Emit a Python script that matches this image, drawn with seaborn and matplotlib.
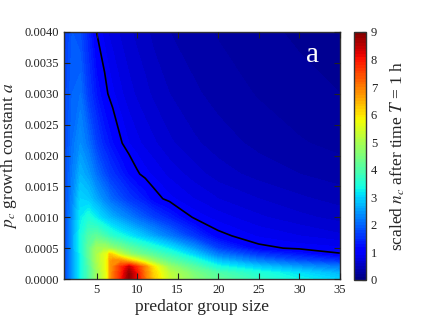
import numpy as np
import matplotlib
matplotlib.use("Agg")
import matplotlib.pyplot as plt
import seaborn as sns

sns.set_theme(style="ticks")
plt.rcParams['font.family'] = ['Liberation Serif', 'DejaVu Serif']
plt.rcParams['mathtext.fontset'] = 'stix'

# predator group size (x) and growth constant a (y)
group_size = [1, 2, 3, 4, 5, 6, 6.4, 6.6, 7, 8, 9, 10, 11, 12, 14, 17, 20, 25, 30, 35]
growth_a = [0.0, 0.0001, 0.0002, 0.0003, 0.0004, 0.0005, 0.0007,
            0.0010, 0.0013, 0.0017, 0.0022, 0.0030, 0.0040]

# scaled n_c, one row per value of a
nc_a00000 = [1.7, 2.5, 3.3, 4.0, 4.8, 5.5, 5.9, 6.6, 7.0, 7.9, 8.9, 8.1, 7.1, 6.3, 5.3, 4.6, 4.2, 3.7, 3.3, 3.0]
nc_a00001 = [1.7, 2.5, 3.3, 4.0, 4.8, 5.5, 5.9, 6.6, 7.0, 7.8, 8.8, 8.0, 7.0, 6.2, 5.2, 4.5, 4.0, 3.5, 3.1, 2.7]
nc_a00002 = [1.7, 2.5, 3.3, 4.0, 4.9, 5.6, 5.9, 6.6, 6.9, 7.7, 8.4, 7.7, 6.9, 6.0, 4.8, 4.1, 3.4, 2.9, 2.5, 2.2]
nc_a00003 = [1.7, 2.5, 3.3, 4.1, 5.0, 5.6, 5.9, 6.6, 6.8, 6.8, 6.3, 5.8, 5.3, 4.8, 4.2, 3.6, 2.8, 2.2, 1.8, 1.5]
nc_a00004 = [1.7, 2.5, 3.3, 4.2, 5.0, 5.6, 5.8, 6.3, 6.1, 5.3, 4.8, 4.5, 4.3, 4.1, 3.7, 3.0, 2.2, 1.6, 1.3, 1.02]
nc_a00005 = [1.7, 2.5, 3.4, 4.2, 4.9, 5.0, 4.9, 4.8, 4.7, 4.5, 4.2, 4.0, 3.8, 3.6, 3.2, 2.5, 1.7, 1.06, 0.96, 0.92]
nc_a00007 = [1.7, 2.5, 3.4, 4.0, 4.2, 3.9, 3.8, 3.7, 3.6, 3.4, 3.2, 3.0, 2.8, 2.6, 2.2, 1.6, 1.06, 0.88, 0.8, 0.72]
nc_a00010 = [1.7, 2.4, 3.2, 3.5, 3.2, 2.9, 2.8, 2.75, 2.65, 2.45, 2.25, 2.05, 1.87, 1.7, 1.4, 0.97, 0.85, 0.72, 0.63, 0.56]
nc_a00013 = [1.7, 2.3, 3.0, 2.9, 2.6, 2.3, 2.2, 2.1, 2.0, 1.8, 1.6, 1.45, 1.3, 1.1, 0.93, 0.8, 0.7, 0.6, 0.52, 0.46]
nc_a00017 = [1.7, 2.2, 2.7, 2.5, 2.1, 1.8, 1.7, 1.62, 1.55, 1.36, 1.18, 1.03, 0.94, 0.88, 0.77, 0.65, 0.55, 0.46, 0.4, 0.35]
nc_a00022 = [1.7, 2.1, 2.4, 2.1, 1.7, 1.4, 1.33, 1.28, 1.2, 1.02, 0.9, 0.83, 0.77, 0.72, 0.62, 0.52, 0.45, 0.37, 0.31, 0.27]
nc_a00030 = [1.7, 2.0, 2.1, 1.65, 1.3, 1.08, 1.0, 0.97, 0.92, 0.82, 0.74, 0.68, 0.63, 0.58, 0.5, 0.42, 0.36, 0.29, 0.24, 0.2]
nc_a00040 = [1.6, 1.9, 1.8, 1.4, 1.0, 0.85, 0.8, 0.78, 0.75, 0.68, 0.62, 0.57, 0.53, 0.47, 0.4, 0.34, 0.29, 0.23, 0.18, 0.15]

Z = np.array([nc_a00000, nc_a00001, nc_a00002, nc_a00003, nc_a00004, nc_a00005,
              nc_a00007, nc_a00010, nc_a00013, nc_a00017, nc_a00022, nc_a00030, nc_a00040])
X, Y = np.meshgrid(group_size, growth_a)

cmap = matplotlib.colormaps['jet']

fig = plt.figure(figsize=(4.27, 3.2), dpi=100)
ax = fig.add_axes([0.150, 0.128, 0.646, 0.772])
cax = fig.add_axes([0.829, 0.125, 0.028, 0.775])

cf = ax.contourf(X, Y, Z, levels=np.linspace(0, 9, 91), cmap=cmap, vmin=0, vmax=9)
ax.contour(X, Y, Z, levels=[1.0], colors='black', linewidths=1.2)

ax.set_xlim(1, 35)
ax.set_ylim(0, 0.004)
ax.set_xticks([5, 10, 15, 20, 25, 30, 35])
ax.set_yticks(np.arange(0, 0.00401, 0.0005))
ax.set_yticklabels(['%.4f' % v for v in np.arange(0, 0.00401, 0.0005)])
ax.tick_params(direction='in', top=True, right=True, labelsize=9, length=4, width=0.8,
               color='#222222', labelcolor='#222222')
for s in ax.spines.values():
    s.set_linewidth(1.0)
    s.set_color('#333333')
ax.set_axisbelow(False)

ax.set_xlabel('predator group size', fontsize=12.5, labelpad=2)
ax.set_ylabel('$p_c$ growth constant $a$', fontsize=12.5)
ax.yaxis.set_label_coords(-0.165, 0.5)
ax.text(0.90, 0.88, 'a', transform=ax.transAxes, color='white', fontsize=21, ha='center', va='baseline')

cb = fig.colorbar(cf, cax=cax, ticks=range(10))
cb.ax.tick_params(direction='in', labelsize=9, length=3, width=0.8, color='#222222', labelcolor='#222222')
cb.outline.set_linewidth(1.0)
cb.outline.set_edgecolor('#333333')
cb.set_label('scaled $n_c$ after time $T$ = 1 h', fontsize=12.5, labelpad=8)

fig.savefig('out.png', dpi=100)
